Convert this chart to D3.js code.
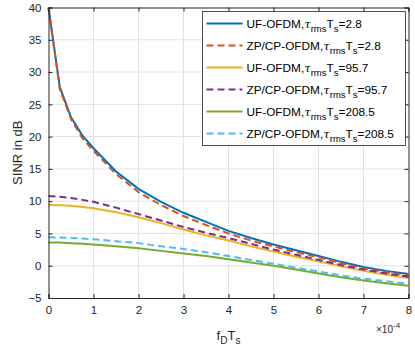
<!DOCTYPE html>
<html>
<head>
<meta charset="utf-8">
<script src="https://cdn.jsdelivr.net/npm/d3@7"></script>
<style>
  body { margin: 0; background: #fff; }
  svg { font-family: "Liberation Sans", Arial, sans-serif; }
</style>
</head>
<body>
<svg id="chart"></svg>
<script>
// x values in units of 1e-4
const xs = [0, 0.25, 0.5, 0.75, 1, 1.5, 2, 2.5, 3, 3.5, 4, 4.5, 5, 5.5, 6, 6.5, 7, 7.5, 8];

const ufTau28 = [40, 27.7, 23, 20.2, 18.2, 14.6, 11.9, 9.9, 8.2, 6.8, 5.4, 4.3, 3.3, 2.4, 1.5, 0.6, -0.2, -0.8, -1.3];
const zpTau28 = [40, 27.4, 22.7, 19.8, 17.8, 14.2, 11.4, 9.4, 7.7, 6.3, 5.0, 3.9, 3.0, 2.1, 1.3, 0.4, -0.4, -1.0, -1.5];
const ufTau957 = [9.4, 9.35, 9.3, 9.1, 8.9, 8.3, 7.5, 6.6, 5.6, 4.7, 3.9, 3.0, 2.2, 1.4, 0.7, -0.1, -0.8, -1.4, -1.9];
const zpTau957 = [10.8, 10.7, 10.5, 10.2, 9.9, 9.0, 8.0, 7.0, 6.0, 5.1, 4.3, 3.4, 2.5, 1.7, 0.9, 0.1, -0.6, -1.2, -1.7];
const ufTau2085 = [3.6, 3.58, 3.5, 3.42, 3.3, 3.0, 2.7, 2.3, 1.9, 1.5, 1.0, 0.5, 0.0, -0.6, -1.2, -1.8, -2.3, -2.7, -3.1];
const zpTau2085 = [4.4, 4.38, 4.3, 4.2, 4.1, 3.8, 3.5, 3.0, 2.6, 2.1, 1.5, 0.9, 0.3, -0.3, -0.9, -1.5, -2.0, -2.4, -2.8];

const seriesNames = ['UF-OFDM', 'ZP/CP-OFDM', 'UF-OFDM', 'ZP/CP-OFDM', 'UF-OFDM', 'ZP/CP-OFDM'];
const tauLabels = ['2.8', '2.8', '95.7', '95.7', '208.5', '208.5'];
const seriesValues = [ufTau28, zpTau28, ufTau957, zpTau957, ufTau2085, zpTau2085];
const colors = ['#0072BD', '#D95319', '#EDB120', '#7E2F8E', '#77AC30', '#4DBEEE'];
const dashed = [false, true, false, true, false, true];

const xTicks = [0, 1, 2, 3, 4, 5, 6, 7, 8];
const yTicks = [-5, 0, 5, 10, 15, 20, 25, 30, 35, 40];

const width = 415, height = 353;
const margin = { top: 7.5, right: 6.5, bottom: 55, left: 48.5 };
const plotW = width - margin.left - margin.right;
const plotH = height - margin.top - margin.bottom;

const svg = d3.select('#chart').attr('width', width).attr('height', height);
const g = svg.append('g').attr('transform', `translate(${margin.left}, ${margin.top})`);

const xScale = d3.scaleLinear().domain([0, 8]).range([0, plotW]);
const yScale = d3.scaleLinear().domain([-5, 40]).range([plotH, 0]);

// Сітка
g.append('g')
  .selectAll('line')
  .data(xTicks.slice(1, -1))
  .enter()
  .append('line')
  .attr('x1', d => xScale(d))
  .attr('x2', d => xScale(d))
  .attr('y1', 0)
  .attr('y2', plotH)
  .style('stroke', '#e3e3e3')
  .style('stroke-width', 1);

g.append('g')
  .selectAll('line')
  .data(yTicks.slice(1, -1))
  .enter()
  .append('line')
  .attr('x1', 0)
  .attr('x2', plotW)
  .attr('y1', d => yScale(d))
  .attr('y2', d => yScale(d))
  .style('stroke', '#e3e3e3')
  .style('stroke-width', 1);

// Криві
const line = d3.line()
  .x((d, i) => xScale(xs[i]))
  .y(d => yScale(d));

const plot = g.append('g');
seriesValues.forEach((vals, i) => {
  plot.append('path')
    .datum(vals)
    .attr('d', line)
    .style('fill', 'none')
    .style('stroke', colors[i])
    .style('stroke-width', 2)
    .style('stroke-dasharray', dashed[i] ? '7,4' : null);
});

// Осі (тики всередину, з усіх боків)
const axisColor = '#262626';
const bottomAxis = g.append('g')
  .attr('transform', `translate(0, ${plotH})`)
  .call(d3.axisBottom(xScale).tickValues(xTicks).tickSize(-4).tickPadding(8));
const leftAxis = g.append('g')
  .call(d3.axisLeft(yScale).tickValues(yTicks).tickSize(-4).tickPadding(7));
const topAxis = g.append('g')
  .call(d3.axisTop(xScale).tickValues(xTicks).tickSize(-4).tickFormat(''));
const rightAxis = g.append('g')
  .attr('transform', `translate(${plotW}, 0)`)
  .call(d3.axisRight(yScale).tickValues(yTicks).tickSize(-4).tickFormat(''));

[bottomAxis, leftAxis, topAxis, rightAxis].forEach(ax => {
  ax.selectAll('.domain').style('stroke', axisColor).style('stroke-width', 1);
  ax.selectAll('.tick line').style('stroke', axisColor);
  ax.selectAll('.tick text')
    .style('fill', axisColor)
    .style('font-size', '11.5px')
    .style('font-family', '"Liberation Sans", Arial, sans-serif');
});

// Підписи осей
svg.append('text')
  .attr('transform', `translate(17, ${margin.top + plotH / 2}) rotate(-90)`)
  .attr('text-anchor', 'middle')
  .attr('dy', '0.35em')
  .style('fill', axisColor)
  .style('font-size', '13px')
  .text('SINR in dB');

const xl = svg.append('text')
  .attr('x', margin.left + plotW / 2)
  .attr('y', 340)
  .attr('text-anchor', 'middle')
  .style('fill', axisColor)
  .style('font-size', '13px');
xl.append('tspan').text('f');
xl.append('tspan').attr('dy', 4).style('font-size', '10px').text('D');
xl.append('tspan').attr('dy', -4).text('T');
xl.append('tspan').attr('dy', 4).style('font-size', '10px').text('s');

const mult = svg.append('text')
  .attr('x', 376)
  .attr('y', 333)
  .style('fill', axisColor)
  .style('font-size', '10px');
mult.append('tspan').text('\u00d710');
mult.append('tspan').attr('dy', -5).style('font-size', '8px').text('-4');

// Легенда
const legend = svg.append('g');
const lx = 202.5, ly = 11.5, lw = 203, lh = 134;
legend.append('rect')
  .attr('x', lx)
  .attr('y', ly)
  .attr('width', lw)
  .attr('height', lh)
  .style('fill', '#fff')
  .style('stroke', axisColor)
  .style('stroke-width', 0.8);

seriesNames.forEach((name, i) => {
  const cy = 23.5 + i * 22;
  legend.append('line')
    .attr('x1', lx + 4)
    .attr('x2', lx + 40)
    .attr('y1', cy)
    .attr('y2', cy)
    .style('stroke', colors[i])
    .style('stroke-width', 2)
    .style('stroke-dasharray', dashed[i] ? '7,4' : null);
  const t = legend.append('text')
    .attr('x', lx + 44)
    .attr('y', cy + 4)
    .style('fill', '#000')
    .style('font-size', '11.8px');
  t.append('tspan').text(name + ',');
  t.append('tspan').style('font-style', 'italic').style('font-family', '"DejaVu Serif", serif').text('\u03c4');
  t.append('tspan').attr('dy', 4).style('font-size', '9.5px').text('rms');
  t.append('tspan').attr('dy', -4).text('T');
  t.append('tspan').attr('dy', 4).style('font-size', '9.5px').text('s');
  t.append('tspan').attr('dy', -4).text('=' + tauLabels[i]);
});
</script>
</body>
</html>
